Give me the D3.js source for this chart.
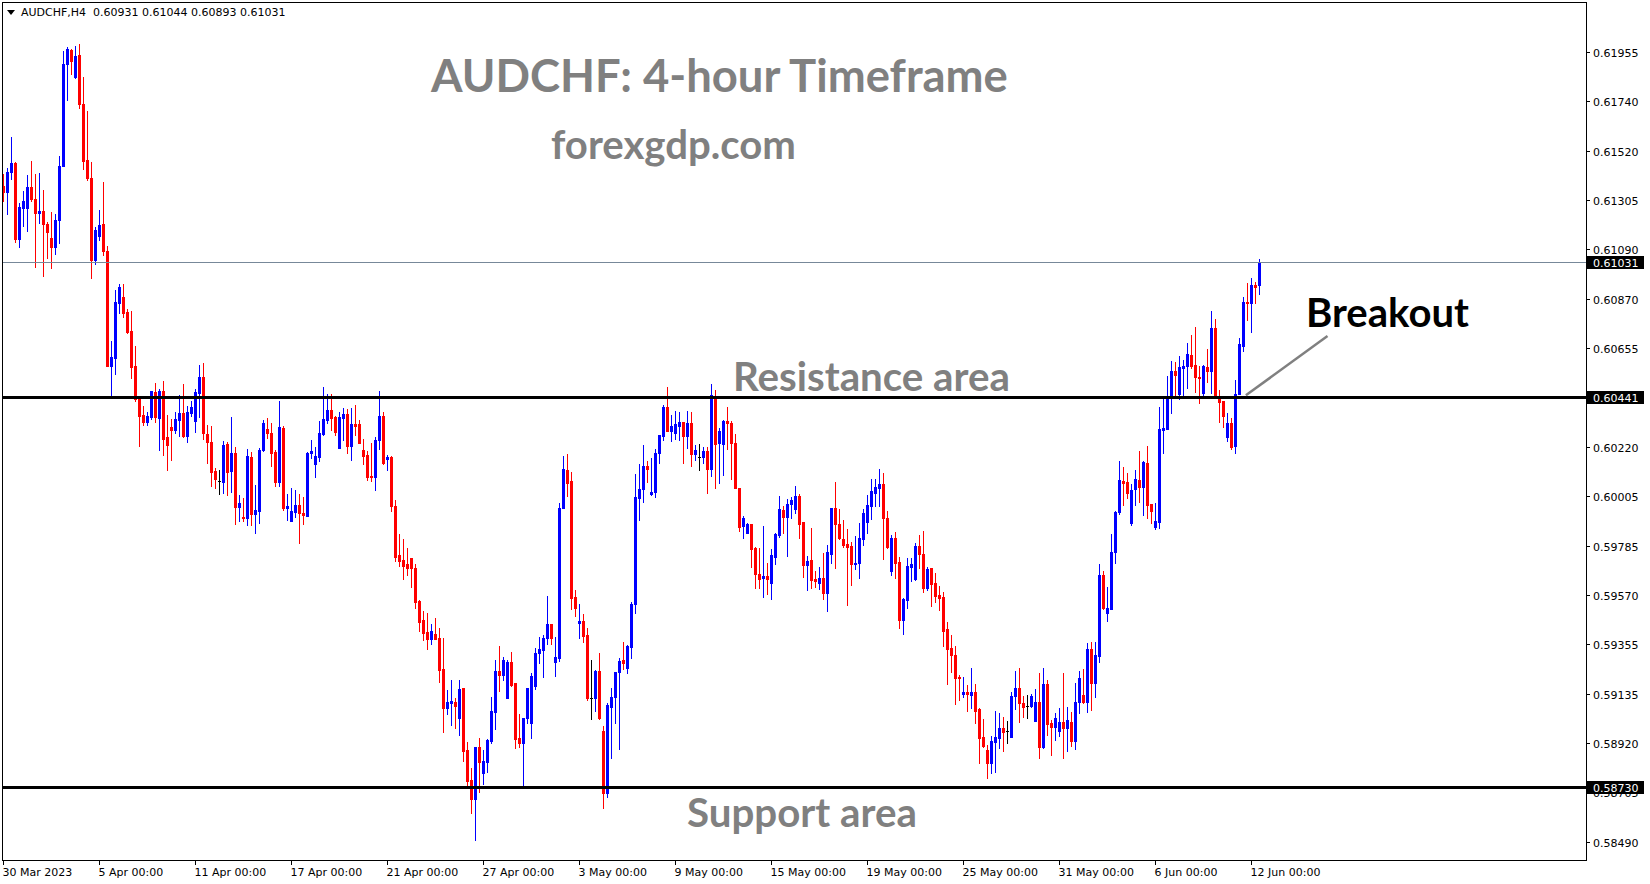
<!DOCTYPE html>
<html><head><meta charset="utf-8">
<script src="https://cdn.jsdelivr.net/npm/d3@7"></script>
<style>html,body{margin:0;padding:0;background:#fff;overflow:hidden}</style>
</head><body>
<svg id="chart" width="1650" height="884"></svg>
<script>
// ---------------- DATA ----------------
const symbolInfo = "AUDCHF,H4  0.60931 0.61044 0.60893 0.61031";

const opens = [0.61365,0.61339,0.61427,0.61466,0.61133,0.61269,0.61269,0.61361,0.61308,0.61247,
0.61256,0.61199,0.61137,0.61098,0.61216,0.61453,0.61900,0.61962,0.61843,0.61940,
0.61725,0.61479,0.61400,0.61041,0.61146,0.61199,0.61080,0.60576,0.60611,0.60852,
0.60878,0.60813,0.60729,0.60576,0.60435,0.60361,0.60330,0.60352,0.60462,0.60348,
0.60466,0.60264,0.60308,0.60295,0.60339,0.60370,0.60269,0.60370,0.60334,0.60457,
0.60528,0.60278,0.60242,0.60115,0.60071,0.60067,0.60234,0.60115,0.60194,0.59957,
0.59913,0.59909,0.60177,0.59927,0.59940,0.60207,0.60299,0.60282,0.60199,0.60067,
0.60304,0.59953,0.59896,0.59935,0.59966,0.59931,0.59918,0.60194,0.60146,0.60177,
0.60278,0.60339,0.60383,0.60352,0.60216,0.60348,0.60365,0.60225,0.60321,0.60321,
0.60207,0.60185,0.60093,0.60089,0.60251,0.60356,0.60168,0.60177,0.59962,0.59747,
0.59725,0.59707,0.59734,0.59690,0.59545,0.59462,0.59409,0.59378,0.59400,0.59383,
0.59247,0.59076,0.59098,0.59102,0.59032,0.59163,0.58892,0.58760,0.58677,0.58905,
0.58791,0.58839,0.58931,0.59058,0.59238,0.59220,0.59120,0.59278,0.59185,0.58944,
0.58922,0.59032,0.59010,0.59172,0.59317,0.59330,0.59383,0.59444,0.59278,0.59295,
0.59953,0.60120,0.60071,0.59563,0.59449,0.59457,0.59396,0.59120,0.59120,0.59238,
0.58975,0.58703,0.59080,0.59124,0.59234,0.59286,0.59251,0.59343,0.59532,0.59997,
0.60036,0.60137,0.60014,0.60023,0.60194,0.60269,0.60396,0.60291,0.60282,0.60313,
0.60330,0.60269,0.60326,0.60190,0.60177,0.60177,0.60203,0.60124,0.60435,0.60238,
0.60234,0.60334,0.60326,0.60238,0.60041,0.59874,0.59843,0.59883,0.59777,0.59663,
0.59646,0.59655,0.59624,0.59738,0.59834,0.59944,0.59913,0.59970,0.59949,0.60006,
0.59892,0.59703,0.59725,0.59641,0.59624,0.59646,0.59580,0.59751,0.59953,0.59883,
0.59817,0.59795,0.59786,0.59707,0.59712,0.59817,0.59892,0.59962,0.60019,0.60041,
0.60058,0.59909,0.59677,0.59821,0.59716,0.59462,0.59549,0.59694,0.59641,0.59786,
0.59751,0.59602,0.59690,0.59624,0.59571,0.59563,0.59422,0.59339,0.59308,0.59212,
0.59137,0.59146,0.59133,0.59146,0.59071,0.58948,0.58892,0.58834,0.58927,0.58944,
0.58988,0.58975,0.58948,0.59128,0.59163,0.59098,0.59084,0.59084,0.59019,0.59102,
0.58905,0.59181,0.59010,0.58992,0.58975,0.59014,0.58988,0.59014,0.58931,0.59102,
0.59133,0.59102,0.59334,0.59185,0.59304,0.59659,0.59492,0.59510,0.59760,0.59935,
0.60071,0.60067,0.59887,0.60036,0.60076,0.60045,0.60150,0.59970,0.59870,0.59892,
0.60295,0.60299,0.60440,0.60554,0.60453,0.60567,0.60576,0.60624,0.60580,0.60528,
0.60457,0.60571,0.60554,0.60742,0.60440,0.60422,0.60264,0.60326,0.60225,0.60453,
0.60663,0.60856,0.60852,0.60931,0.60931];

const highs = [0.61418,0.61444,0.61580,0.61470,0.61291,0.61343,0.61413,0.61475,0.61418,0.61422,
0.61348,0.61207,0.61251,0.61242,0.61497,0.61957,0.61975,0.61966,0.61979,0.61988,
0.61843,0.61694,0.61470,0.61185,0.61260,0.61383,0.61102,0.60685,0.60909,0.60935,
0.60935,0.60826,0.60817,0.60663,0.60440,0.60400,0.60374,0.60466,0.60501,0.60475,
0.60510,0.60361,0.60343,0.60374,0.60449,0.60497,0.60400,0.60422,0.60475,0.60580,
0.60589,0.60317,0.60313,0.60128,0.60120,0.60247,0.60242,0.60352,0.60220,0.60010,
0.59997,0.60212,0.60199,0.60054,0.60216,0.60339,0.60348,0.60326,0.60207,0.60422,
0.60313,0.60014,0.60041,0.60032,0.60014,0.60001,0.60198,0.60251,0.60220,0.60334,
0.60484,0.60453,0.60453,0.60356,0.60374,0.60392,0.60387,0.60392,0.60405,0.60339,
0.60255,0.60203,0.60238,0.60264,0.60466,0.60374,0.60185,0.60181,0.59988,0.59839,
0.59817,0.59777,0.59734,0.59707,0.59549,0.59501,0.59492,0.59444,0.59470,0.59427,
0.59383,0.59155,0.59199,0.59120,0.59199,0.59163,0.58927,0.58813,0.58905,0.58944,
0.58892,0.58940,0.59124,0.59286,0.59348,0.59299,0.59286,0.59321,0.59185,0.59049,
0.59032,0.59163,0.59229,0.59339,0.59387,0.59396,0.59567,0.59444,0.59387,0.59975,
0.60181,0.60190,0.60111,0.59593,0.59532,0.59488,0.59427,0.59286,0.59242,0.59317,
0.58997,0.59098,0.59163,0.59234,0.59295,0.59365,0.59352,0.59541,0.60102,0.60146,
0.60229,0.60159,0.60172,0.60212,0.60273,0.60405,0.60484,0.60361,0.60378,0.60374,
0.60330,0.60378,0.60374,0.60229,0.60234,0.60220,0.60220,0.60497,0.60470,0.60304,
0.60339,0.60396,0.60334,0.60278,0.60041,0.59918,0.59887,0.59883,0.59782,0.59777,
0.59874,0.59712,0.59773,0.59843,0.60006,0.59962,0.59992,0.60001,0.60049,0.60014,
0.59892,0.59742,0.59865,0.59677,0.59694,0.59756,0.59791,0.59953,0.60067,0.59949,
0.59900,0.59861,0.59804,0.59830,0.59887,0.59949,0.60010,0.60080,0.60080,0.60124,
0.60106,0.59940,0.59834,0.59848,0.59738,0.59558,0.59734,0.59734,0.59799,0.59834,
0.59852,0.59694,0.59690,0.59668,0.59611,0.59584,0.59453,0.59396,0.59348,0.59220,
0.59212,0.59177,0.59251,0.59181,0.59076,0.59028,0.58913,0.58953,0.59063,0.59054,
0.59036,0.59019,0.59146,0.59238,0.59251,0.59128,0.59133,0.59137,0.59159,0.59229,
0.59251,0.59199,0.59023,0.59054,0.59076,0.59229,0.59080,0.59058,0.59185,0.59238,
0.59247,0.59361,0.59365,0.59365,0.59707,0.59677,0.59606,0.59839,0.59940,0.60159,
0.60133,0.60106,0.60058,0.60120,0.60203,0.60159,0.60225,0.59970,0.59975,0.60396,
0.60435,0.60532,0.60598,0.60593,0.60620,0.60602,0.60677,0.60712,0.60747,0.60576,
0.60580,0.60650,0.60817,0.60782,0.60470,0.60422,0.60370,0.60348,0.60514,0.60699,
0.60878,0.60940,0.60962,0.60944,0.61044];

const lows = [0.61299,0.61242,0.61396,0.61120,0.61098,0.61190,0.61168,0.61299,0.61010,0.61203,
0.60971,0.61049,0.61006,0.61067,0.61115,0.61453,0.61742,0.61856,0.61839,0.61707,
0.61440,0.61391,0.60962,0.61023,0.61128,0.61063,0.60576,0.60440,0.60541,0.60808,
0.60791,0.60720,0.60523,0.60422,0.60225,0.60317,0.60317,0.60343,0.60330,0.60207,
0.60185,0.60120,0.60163,0.60282,0.60269,0.60264,0.60242,0.60356,0.60286,0.60352,
0.60255,0.60150,0.60049,0.60041,0.60014,0.60019,0.60010,0.60023,0.59883,0.59896,
0.59896,0.59878,0.59878,0.59843,0.59887,0.60203,0.60260,0.60137,0.60049,0.60049,
0.59944,0.59900,0.59896,0.59913,0.59799,0.59883,0.59918,0.60172,0.60089,0.60159,
0.60273,0.60326,0.60295,0.60273,0.60216,0.60251,0.60194,0.60163,0.60273,0.60238,
0.60146,0.60076,0.60071,0.60032,0.60212,0.60146,0.60120,0.59940,0.59720,0.59698,
0.59641,0.59659,0.59606,0.59514,0.59413,0.59374,0.59334,0.59356,0.59378,0.59190,
0.58970,0.59049,0.59001,0.58988,0.58957,0.58843,0.58738,0.58615,0.58497,0.58707,
0.58742,0.58795,0.58922,0.58984,0.59150,0.59199,0.59120,0.59172,0.58900,0.58905,
0.58734,0.59010,0.58944,0.59159,0.59273,0.59212,0.59356,0.59356,0.59216,0.59282,
0.59953,0.60006,0.59510,0.59479,0.59383,0.59365,0.59111,0.59028,0.59063,0.59028,
0.58637,0.58685,0.58856,0.59010,0.58896,0.59247,0.59229,0.59295,0.59492,0.59900,
0.59979,0.60067,0.60010,0.60001,0.60150,0.60251,0.60291,0.60247,0.60255,0.60251,
0.60150,0.60216,0.60137,0.60163,0.60120,0.60150,0.60019,0.60093,0.60041,0.60063,
0.60098,0.60212,0.60080,0.60041,0.59852,0.59821,0.59843,0.59694,0.59602,0.59602,
0.59563,0.59576,0.59554,0.59707,0.59826,0.59843,0.59742,0.59909,0.59931,0.59821,
0.59650,0.59593,0.59602,0.59606,0.59598,0.59554,0.59501,0.59712,0.59690,0.59817,
0.59782,0.59528,0.59615,0.59685,0.59646,0.59791,0.59843,0.59905,0.59962,0.59962,
0.59729,0.59777,0.59659,0.59646,0.59427,0.59400,0.59514,0.59633,0.59637,0.59690,
0.59584,0.59593,0.59523,0.59541,0.59506,0.59348,0.59182,0.59234,0.59093,0.59111,
0.59124,0.59063,0.59076,0.59010,0.58834,0.58905,0.58769,0.58791,0.58795,0.58900,
0.58887,0.58922,0.58948,0.59071,0.59014,0.59036,0.59032,0.59080,0.59019,0.58856,
0.58900,0.58957,0.58870,0.58935,0.58953,0.58856,0.58887,0.58909,0.58896,0.59054,
0.59098,0.59058,0.59067,0.59124,0.59278,0.59510,0.59457,0.59510,0.59712,0.59927,
0.59966,0.59997,0.59878,0.59966,0.59979,0.59922,0.59909,0.59887,0.59861,0.59865,
0.60194,0.60299,0.60370,0.60440,0.60431,0.60449,0.60479,0.60567,0.60462,0.60413,
0.60444,0.60506,0.60457,0.60440,0.60330,0.60308,0.60247,0.60212,0.60194,0.60453,
0.60642,0.60778,0.60725,0.60852,0.60893];

const closes = [0.61339,0.61427,0.61466,0.61133,0.61273,0.61299,0.61361,0.61308,0.61247,0.61256,
0.61199,0.61163,0.61098,0.61216,0.61453,0.61900,0.61966,0.61913,0.61935,0.61725,
0.61475,0.61400,0.61041,0.61172,0.61194,0.61080,0.60576,0.60615,0.60856,0.60922,
0.60808,0.60725,0.60571,0.60431,0.60356,0.60330,0.60356,0.60466,0.60352,0.60466,
0.60255,0.60229,0.60295,0.60343,0.60370,0.60269,0.60374,0.60396,0.60462,0.60528,
0.60282,0.60242,0.60111,0.60080,0.60071,0.60229,0.60111,0.60194,0.59957,0.59975,
0.59909,0.60181,0.59927,0.59944,0.60207,0.60326,0.60282,0.60194,0.60067,0.60308,
0.59953,0.59962,0.59940,0.59966,0.59931,0.59922,0.60194,0.60203,0.60181,0.60282,
0.60343,0.60383,0.60348,0.60286,0.60352,0.60365,0.60225,0.60321,0.60313,0.60238,
0.60181,0.60089,0.60089,0.60251,0.60356,0.60150,0.60177,0.59962,0.59738,0.59720,
0.59698,0.59690,0.59690,0.59541,0.59453,0.59405,0.59378,0.59413,0.59378,0.59242,
0.59076,0.59102,0.59106,0.59084,0.59159,0.58887,0.58756,0.58677,0.58905,0.58839,
0.58843,0.58935,0.59063,0.59238,0.59220,0.59286,0.59278,0.59177,0.58940,0.58922,
0.59032,0.59163,0.59216,0.59317,0.59334,0.59383,0.59444,0.59383,0.59299,0.59953,
0.60124,0.60063,0.59558,0.59514,0.59457,0.59392,0.59120,0.59120,0.59238,0.59032,
0.58703,0.59089,0.59124,0.59234,0.59282,0.59273,0.59348,0.59532,0.60001,0.60036,
0.60137,0.60124,0.60023,0.60194,0.60273,0.60396,0.60291,0.60313,0.60321,0.60330,
0.60269,0.60326,0.60190,0.60207,0.60177,0.60203,0.60124,0.60449,0.60234,0.60291,
0.60334,0.60326,0.60238,0.60041,0.59870,0.59909,0.59883,0.59773,0.59663,0.59641,
0.59655,0.59641,0.59747,0.59839,0.59949,0.59913,0.59970,0.59988,0.60006,0.59883,
0.59703,0.59720,0.59637,0.59633,0.59646,0.59580,0.59760,0.59953,0.59883,0.59821,
0.59791,0.59782,0.59707,0.59712,0.59821,0.59931,0.59966,0.60028,0.60045,0.60058,
0.59909,0.59782,0.59821,0.59712,0.59462,0.59554,0.59698,0.59707,0.59786,0.59751,
0.59602,0.59685,0.59620,0.59567,0.59558,0.59413,0.59334,0.59308,0.59207,0.59207,
0.59146,0.59137,0.59146,0.59063,0.58944,0.58909,0.58834,0.58931,0.58948,0.58988,
0.58970,0.58975,0.59128,0.59163,0.59098,0.59080,0.59084,0.59128,0.59102,0.58905,
0.59181,0.59006,0.58992,0.59032,0.59014,0.58988,0.59023,0.58931,0.59102,0.59207,
0.59102,0.59334,0.59185,0.59308,0.59659,0.59514,0.59514,0.59760,0.59935,0.60076,
0.60063,0.60019,0.60032,0.60080,0.60045,0.60155,0.59966,0.59940,0.59896,0.60299,
0.60304,0.60440,0.60554,0.60536,0.60571,0.60576,0.60628,0.60576,0.60528,0.60523,
0.60576,0.60554,0.60742,0.60440,0.60418,0.60356,0.60326,0.60220,0.60453,0.60672,
0.60856,0.60852,0.60931,0.60922,0.61031];

const priceTicks = [0.61955,0.61740,0.61520,0.61305,0.61090,0.60870,0.60655,0.60435,
  0.60220,0.60005,0.59785,0.59570,0.59355,0.59135,0.58920,0.58705,0.58490];
const timeLabels = ["30 Mar 2023","5 Apr 00:00","11 Apr 00:00","17 Apr 00:00","21 Apr 00:00",
  "27 Apr 00:00","3 May 00:00","9 May 00:00","15 May 00:00","19 May 00:00","25 May 00:00",
  "31 May 00:00","6 Jun 00:00","12 Jun 00:00"];
const timeLabelBars = [0,24,48,72,96,120,144,168,192,216,240,264,288,312];

const resistanceLevel = 0.60441;
const supportLevel = 0.58730;
const lastPrice = 0.61031;

const titleText = "AUDCHF: 4-hour Timeframe";
const siteText = "forexgdp.com";
const resistanceText = "Resistance area";
const supportText = "Support area";
const breakoutText = "Breakout";
// arrow from breakout point (bar index, price) to label (bar index, price)
const breakoutArrow = [[310.6, 0.60447], [331, 0.60707]];

// ---------------- LAYOUT ----------------
const W = 1650, H = 884;
const plot = {left: 2, top: 2, right: 1586, bottom: 860};
const BAR = 4;
const UP = "#0000ff", DOWN = "#ff0000", DOJI = "#000000";
const GREY = "#808080";

const svg = d3.select("#chart");
svg.append("rect").attr("width", W).attr("height", H).attr("fill", "#fff");

const n = closes.length;
const x = d3.scaleLinear().domain([0, n - 1]).range([3.5, 3.5 + BAR * (n - 1)]);
const y = d3.scaleLinear().domain([0.58490, 0.61955]).range([841.5, 51.5]);

const candles = d3.range(n).map(i => ({i, o: opens[i], h: highs[i], l: lows[i], c: closes[i]}));
const colorOf = d => d.c > d.o ? UP : (d.c < d.o ? DOWN : DOJI);

const g = svg.append("g").attr("shape-rendering", "crispEdges");

// wicks
g.selectAll("rect.wick").data(candles).join("rect")
  .attr("class", "wick")
  .attr("x", d => Math.round(x(d.i) - 0.5))
  .attr("width", 1)
  .attr("y", d => Math.round(y(d.h)))
  .attr("height", d => Math.max(1, Math.round(y(d.l)) - Math.round(y(d.h)) + 1))
  .attr("fill", colorOf);

// bodies
g.selectAll("rect.body").data(candles).join("rect")
  .attr("class", "body")
  .attr("x", d => Math.round(x(d.i) - 1.5))
  .attr("width", 3)
  .attr("y", d => Math.round(y(Math.max(d.o, d.c))))
  .attr("height", d => Math.max(1, Math.round(y(Math.min(d.o, d.c))) - Math.round(y(Math.max(d.o, d.c))) + 1))
  .attr("fill", colorOf);

// current price line
g.append("line")
  .attr("x1", plot.left).attr("x2", plot.right)
  .attr("y1", Math.round(y(lastPrice)) + 0.5).attr("y2", Math.round(y(lastPrice)) + 0.5)
  .attr("stroke", "#778899").attr("stroke-width", 1);

// support / resistance
[resistanceLevel, supportLevel].forEach(v => {
  g.append("rect")
    .attr("x", plot.left).attr("width", plot.right - plot.left)
    .attr("y", Math.round(y(v)) - 1).attr("height", 3)
    .attr("fill", "#000");
});

// frame
svg.append("rect")
  .attr("x", plot.left + 0.5).attr("y", plot.top + 0.5)
  .attr("width", plot.right - plot.left).attr("height", plot.bottom - plot.top)
  .attr("fill", "none").attr("stroke", "#000").attr("stroke-width", 1)
  .attr("shape-rendering", "crispEdges");

const axisFont = "'DejaVu Sans', Verdana, sans-serif";

// right price axis
const ya = svg.append("g");
priceTicks.forEach(v => {
  const yy = Math.round(y(v)) + 0.5;
  ya.append("line").attr("x1", plot.right).attr("x2", plot.right + 4)
    .attr("y1", yy).attr("y2", yy).attr("stroke", "#000").attr("shape-rendering", "crispEdges");
  ya.append("text").attr("x", plot.right + 7).attr("y", yy + 4)
    .attr("font-family", axisFont).attr("font-size", 11).attr("fill", "#000")
    .text(v.toFixed(5));
});

// price boxes
[[lastPrice], [resistanceLevel], [supportLevel]].forEach(([v]) => {
  const yy = Math.round(y(v));
  ya.append("rect").attr("x", plot.right + 1).attr("y", yy - 6).attr("width", 57).attr("height", 13)
    .attr("fill", "#000").attr("shape-rendering", "crispEdges");
  ya.append("text").attr("x", plot.right + 7).attr("y", yy + 4.5)
    .attr("font-family", axisFont).attr("font-size", 11).attr("fill", "#fff")
    .text(v.toFixed(5));
});

// time axis
const xa = svg.append("g");
timeLabelBars.forEach((b, k) => {
  const xx = Math.round(x(b) - 0.5) + 0.5;
  xa.append("line").attr("x1", xx).attr("x2", xx).attr("y1", plot.bottom).attr("y2", plot.bottom + 5)
    .attr("stroke", "#000").attr("shape-rendering", "crispEdges");
  xa.append("text").attr("x", xx - 1).attr("y", plot.bottom + 16)
    .attr("font-family", axisFont).attr("font-size", 11).attr("fill", "#000")
    .text(timeLabels[k]);
});

// header
svg.append("path").attr("d", "M7,10 L15,10 L11,15 Z").attr("fill", "#000");
svg.append("text").attr("x", 21).attr("y", 16)
  .attr("font-family", axisFont).attr("font-size", 11).attr("fill", "#000")
  .attr("xml:space", "preserve").style("white-space", "pre")
  .text(symbolInfo);

// annotation texts, fitted to widths
function fitted(txt, left, baseline, width, color) {
  const t = svg.append("text").attr("x", left).attr("y", baseline)
    .attr("font-family", "Lato, 'Open Sans', sans-serif").attr("font-weight", 700)
    .attr("font-size", 40).attr("fill", color).text(txt);
  const w = t.node().getComputedTextLength();
  if (w > 0) t.attr("font-size", 40 * width / w);
  return t;
}
fitted(titleText, 431, 92, 577, GREY);
fitted(siteText, 551, 159, 245, GREY);
fitted(resistanceText, 733, 391, 277, GREY);
fitted(supportText, 687, 827, 230, GREY);
fitted(breakoutText, 1306, 327, 163, "#000");

svg.append("line")
  .attr("x1", x(breakoutArrow[0][0])).attr("y1", y(breakoutArrow[0][1]))
  .attr("x2", x(breakoutArrow[1][0])).attr("y2", y(breakoutArrow[1][1]))
  .attr("stroke", GREY).attr("stroke-width", 2.5);
</script>
</body></html>
